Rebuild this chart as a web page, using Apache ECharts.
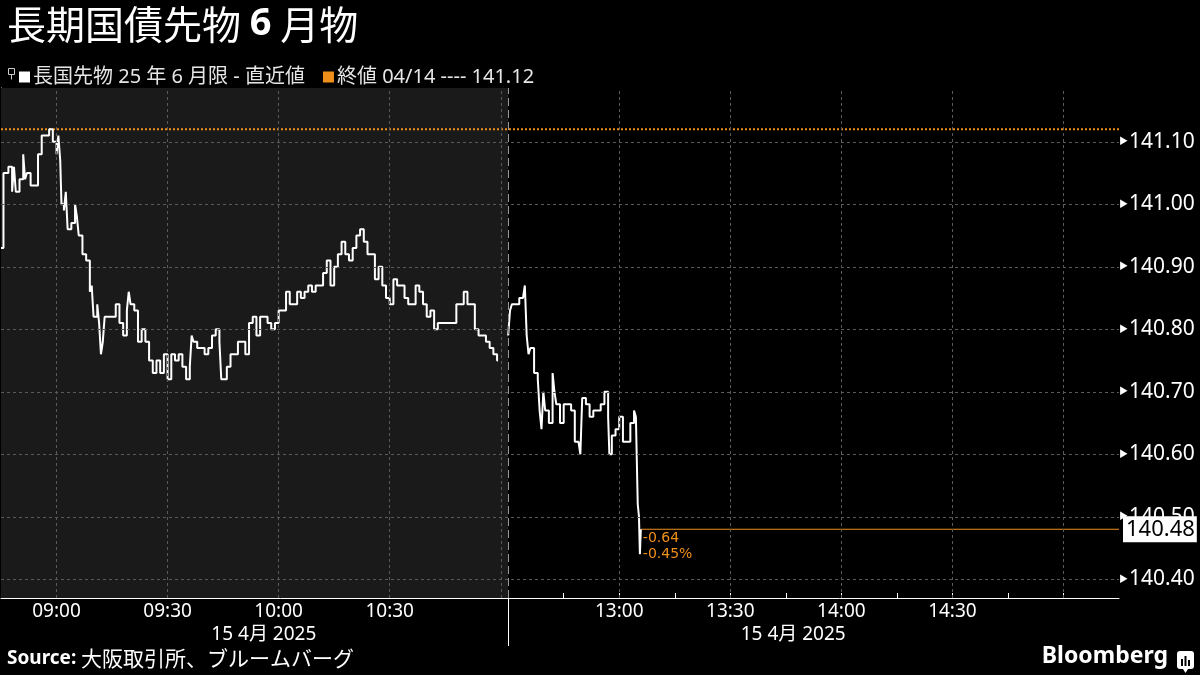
<!DOCTYPE html>
<html>
<head>
<meta charset="utf-8">
<script src="https://cdn.jsdelivr.net/npm/echarts@6/dist/echarts.min.js"></script>
<style>
html, body { margin: 0; padding: 0; background: #000; }
#chart { width: 1200px; height: 675px; }
</style>
</head>
<body>
<div id="chart"></div>
<script>
// 前場 (08:45 - 11:02)
const amTimes = [
	"08:45", "08:45:40", "08:46", "08:47", "08:48", "08:48:30", "08:49", "08:50", "08:51", "08:51:30",
	"08:52", "08:53", "08:54", "08:55", "08:56", "08:57", "08:58", "08:59", "09:00", "09:00:30",
	"09:01", "09:01:20", "09:02", "09:02:30", "09:03", "09:04", "09:05", "09:05:30", "09:06", "09:07",
	"09:08", "09:09", "09:09:30", "09:10", "09:11", "09:11:30", "09:12", "09:12:30", "09:13", "09:14",
	"09:15", "09:16", "09:17", "09:18", "09:19", "09:19:30", "09:20", "09:21", "09:22", "09:23",
	"09:24", "09:25", "09:26", "09:27", "09:28", "09:29", "09:30", "09:31", "09:32", "09:33",
	"09:34", "09:35", "09:36", "09:36:30", "09:37", "09:38", "09:39", "09:40", "09:41", "09:42",
	"09:43", "09:44", "09:44:30", "09:45", "09:46", "09:47", "09:48", "09:49", "09:50", "09:51",
	"09:52", "09:53", "09:54", "09:55", "09:56", "09:57", "09:58", "09:59", "10:00", "10:01",
	"10:02", "10:03", "10:04", "10:05", "10:06", "10:07", "10:08", "10:09", "10:10", "10:11",
	"10:12", "10:13", "10:14", "10:15", "10:16", "10:17", "10:18", "10:19", "10:20", "10:21",
	"10:22", "10:23", "10:24", "10:25", "10:26", "10:27", "10:28", "10:29", "10:30", "10:31",
	"10:32", "10:33", "10:34", "10:35", "10:36", "10:37", "10:38", "10:39", "10:40", "10:41",
	"10:42", "10:43", "10:44", "10:45", "10:46", "10:47", "10:48", "10:49", "10:50", "10:51",
	"10:52", "10:53", "10:54", "10:55", "10:56", "10:57", "10:58", "10:59", "10:59:15"
];
const amValues = [
	140.93, 141.05, 141.05, 141.06, 141.02, 141.06, 141.02, 141.04, 141.08, 141.04,
	141.05, 141.03, 141.03, 141.08, 141.11, 141.11, 141.12, 141.10, 141.08, 141.11,
	141.07, 141.00, 140.99, 141.02, 140.96, 140.97, 141.00, 140.98, 140.95, 140.92,
	140.91, 140.86, 140.87, 140.82, 140.84, 140.81, 140.76, 140.78, 140.82, 140.82,
	140.82, 140.84, 140.81, 140.79, 140.83, 140.86, 140.84, 140.83, 140.78, 140.80,
	140.78, 140.75, 140.73, 140.75, 140.73, 140.76, 140.72, 140.76, 140.75, 140.76,
	140.74, 140.72, 140.74, 140.79, 140.78, 140.77, 140.77, 140.76, 140.77, 140.79,
	140.80, 140.78, 140.72, 140.72, 140.74, 140.76, 140.76, 140.78, 140.78, 140.76,
	140.81, 140.82, 140.79, 140.82, 140.82, 140.81, 140.80, 140.81, 140.83, 140.83,
	140.86, 140.84, 140.84, 140.86, 140.85, 140.86, 140.87, 140.86, 140.87, 140.87,
	140.89, 140.91, 140.87, 140.90, 140.92, 140.94, 140.92, 140.91, 140.93, 140.95,
	140.96, 140.94, 140.92, 140.92, 140.88, 140.90, 140.87, 140.85, 140.84, 140.88,
	140.87, 140.87, 140.85, 140.84, 140.84, 140.87, 140.86, 140.84, 140.82, 140.83,
	140.80, 140.81, 140.81, 140.81, 140.81, 140.81, 140.84, 140.84, 140.86, 140.84,
	140.84, 140.80, 140.79, 140.79, 140.78, 140.77, 140.76, 140.75, 140.75
];

// 後場 (12:30 -)
const pmTimes = [
	"12:30", "12:30:30", "12:31", "12:32", "12:33", "12:34", "12:34:30", "12:35", "12:35:30", "12:36",
	"12:37", "12:38", "12:38:30", "12:39", "12:39:30", "12:40", "12:41", "12:42", "12:42:30", "12:43",
	"12:44", "12:45", "12:46", "12:47", "12:48", "12:49", "12:49:30", "12:50", "12:51", "12:52",
	"12:53", "12:54", "12:55", "12:56", "12:57", "12:57:20", "12:58", "12:59", "13:00", "13:01",
	"13:02", "13:03", "13:04", "13:04:30", "13:05", "13:05:20", "13:05:35", "13:05:50"
];
const pmValues = [
	140.79, 140.83, 140.84, 140.84, 140.85, 140.85, 140.87, 140.79, 140.76, 140.77,
	140.73, 140.72, 140.67, 140.64, 140.70, 140.67, 140.65, 140.73, 140.70, 140.68,
	140.65, 140.68, 140.68, 140.67, 140.62, 140.62, 140.60, 140.69, 140.68, 140.66,
	140.67, 140.67, 140.68, 140.70, 140.66, 140.60, 140.63, 140.64, 140.66, 140.62,
	140.62, 140.65, 140.67, 140.66, 140.52, 140.50, 140.44, 140.48
];

const prevClose = 141.12;
const seriesName = "長国先物 25 年 6 月限 - 直近値";
const closeName = "終値 04/14 ---- 141.12";
const sessionDate = "15 4月 2025";

const yLabelValues = [140.4, 140.5, 140.6, 140.7, 140.8, 140.9, 141.0, 141.1];
const yTickValues = [140.45, 140.55, 140.65, 140.75, 140.85, 140.95, 141.05, 141.15];
const xLabelTimes = ["09:00", "09:30", "10:00", "10:30", "13:00", "13:30", "14:00", "14:30"];
const xGridTimes = ["09:00", "09:30", "10:00", "10:30", "11:00", "13:00", "13:30", "14:00", "14:30", "15:00"];
const xTickTimes = [
	"09:00", "09:15", "09:30", "09:45", "10:00", "10:15", "10:30", "10:45", "11:00",
	"12:45", "13:00", "13:15", "13:30", "13:45", "14:00", "14:15", "14:30", "14:45", "15:00"
];

// 昼休みを詰めた「取引分」の軸に変換
const AM_OPEN = 8 * 60 + 45;
const AM_LEN = 137; // 08:45 - 11:02
const PM_OPEN = 12 * 60 + 30;
const PM_LEN = 165; // 12:30 - 15:15
const X_MAX = AM_LEN + PM_LEN;
const toV = t => {
	const p = t.split(":").map(Number);
	const mins = p[0] * 60 + p[1] + (p[2] || 0) / 60;
	return mins < 12 * 60 ? mins - AM_OPEN : mins - PM_OPEN + AM_LEN;
};
const labelOf = {};
xLabelTimes.forEach(t => (labelOf[Math.round(toV(t))] = t));

const amData = amTimes.map((t, i) => [toV(t), amValues[i]]);
const pmData = pmTimes.map((t, i) => [toV(t), pmValues[i]]);
const last = pmData[pmData.length - 1];
const chg = last[1] - prevClose;
const chgPct = (chg / prevClose) * 100;

const WHITE = "#ffffff";
const ORANGE = "#f0901a";
const GRID = "#5a5a5a";
const FONT = "'Noto Sans', 'Noto Sans CJK JP', sans-serif";
const JP = "'Noto Sans CJK JP', sans-serif";

const myChart = echarts.init(document.getElementById("chart"));
const option = {
	backgroundColor: "#000",
	animation: false,
	textStyle: { fontFamily: FONT },
	title: {
		text: "長期国債先物 {b|6} 月物",
		left: 2,
		top: 0,
		textStyle: {
			color: WHITE,
			fontSize: 39,
			fontWeight: "normal",
			fontFamily: JP,
			rich: { b: { fontSize: 38, fontWeight: "bold", color: WHITE, fontFamily: FONT } }
		}
	},
	legend: {
		left: 14,
		top: 62,
		icon: "rect",
		itemWidth: 11,
		itemHeight: 11,
		itemGap: 18,
		textStyle: { color: "#e6e6e6", fontSize: 20, fontFamily: FONT, padding: [0, 0, 0, -2] },
		data: [
			{ name: seriesName, itemStyle: { color: WHITE } },
			{ name: closeName, itemStyle: { color: ORANGE } }
		]
	},
	grid: { left: 1, right: 81, top: 88, bottom: 77 },
	xAxis: [
		{
			type: "value",
			min: 0,
			max: X_MAX,
			axisLine: { lineStyle: { color: WHITE, width: 1 } },
			axisTick: { inside: true, length: 5, customValues: xTickTimes.map(toV), lineStyle: { color: WHITE } },
			axisLabel: {
				customValues: xLabelTimes.map(toV),
				formatter: v => labelOf[Math.round(v)] || "",
				color: WHITE,
				fontSize: 19,
				margin: 4
			},
			splitLine: { show: false }
		},
		{
			type: "value",
			position: "bottom",
			min: 0,
			max: X_MAX,
			axisLine: { show: false },
			axisTick: { show: true, length: 48, customValues: [AM_LEN], lineStyle: { color: WHITE } },
			axisLabel: {
				customValues: [71, 214],
				formatter: () => sessionDate,
				color: WHITE,
				fontSize: 19,
				margin: 27
			},
			splitLine: { show: false }
		}
	],
	yAxis: {
		type: "value",
		position: "right",
		min: 140.37,
		max: 141.186,
		axisLine: { show: true, lineStyle: { color: WHITE } },
		axisTick: { show: true, length: 5, customValues: yTickValues, lineStyle: { color: WHITE } },
		axisLabel: {
			customValues: yLabelValues,
			formatter: v => "{t|▶}" + v.toFixed(2),
			color: WHITE,
			fontSize: 21,
			margin: 0,
			rich: { t: { fontSize: 9, color: WHITE, padding: [0, 1, 0, 0] } }
		},
		splitLine: { show: false }
	},
	series: [
		{
			// 前場の網掛け
			type: "line",
			data: [],
			silent: true,
			z: 0,
			markArea: {
				silent: true,
				itemStyle: { color: "#1a1a1a" },
				data: [[{ xAxis: 0 }, { xAxis: AM_LEN }]]
			}
		},
		{
			// グリッド線
			type: "line",
			data: [],
			silent: true,
			z: 1,
			markLine: {
				silent: true,
				symbol: "none",
				label: { show: false },
				lineStyle: { color: GRID, type: [3, 3], width: 1 },
				data: [
					...yLabelValues.map(y => ({ yAxis: y })),
					...xGridTimes.map(t => ({ xAxis: toV(t) })),
					{ xAxis: AM_LEN, lineStyle: { color: "#9a9a9a", type: [8, 4], width: 1 } }
				]
			}
		},
		{
			name: closeName,
			type: "line",
			data: [[0, prevClose], [X_MAX, prevClose]],
			symbol: "none",
			silent: true,
			z: 2,
			lineStyle: { color: ORANGE, width: 2, type: [2, 2] },
			itemStyle: { color: ORANGE }
		},
		{
			// 直近値の水平線と値ラベル
			name: "last",
			type: "line",
			data: [[last[0] + 0.1, last[1]], [X_MAX, last[1]]],
			symbol: "none",
			silent: true,
			z: 2,
			lineStyle: { color: ORANGE, width: 1 },
			itemStyle: { color: ORANGE },
			endLabel: {
				show: true,
				distance: 4,
				formatter: () => last[1].toFixed(2),
				color: "#000",
				backgroundColor: WHITE,
				fontSize: 22,
				padding: [3, 2, 1, 3]
			}
		},
		{
			name: seriesName,
			type: "line",
			step: "end",
			data: amData,
			symbol: "none",
			z: 3,
			lineStyle: { color: WHITE, width: 2 },
			itemStyle: { color: WHITE }
		},
		{
			name: seriesName,
			type: "line",
			step: "end",
			data: pmData,
			symbol: "none",
			z: 3,
			lineStyle: { color: WHITE, width: 2 },
			itemStyle: { color: WHITE },
			markPoint: {
				silent: true,
				symbol: "circle",
				symbolSize: 0,
				label: {
					show: true,
					position: "right",
					offset: [-3, 17],
					color: ORANGE,
					fontSize: 14,
					lineHeight: 16,
					fontFamily: "'DejaVu Sans', sans-serif",
					formatter: () => chg.toFixed(2) + "\n" + chgPct.toFixed(2) + "%"
				},
				data: [{ coord: last }]
			}
		}
	],
	graphic: [
		{
			type: "group",
			left: 6,
			top: 66,
			children: [
				{ type: "rect", shape: { x: 0, y: 0, width: 6, height: 6 }, style: { fill: "none", stroke: "#ccc", lineWidth: 1 } },
				{ type: "line", shape: { x1: 3, y1: 6, x2: 3, y2: 11 }, style: { stroke: "#ccc", lineWidth: 1 } }
			]
		},
		{
			type: "text",
			left: 7,
			top: 648,
			style: {
				text: "{b|Source:} 大阪取引所、ブルームバーグ",
				fill: WHITE,
				font: "21px " + JP,
				rich: { b: { fontWeight: "bold", fontSize: 19, fontFamily: FONT, fill: WHITE } }
			}
		},
		{
			type: "text",
			right: 32,
			top: 645,
			style: { text: "Bloomberg", fill: WHITE, font: "bold 23px " + FONT }
		},
		{
			type: "group",
			right: 6,
			top: 651,
			children: [
				{ type: "rect", shape: { x: 0, y: 0, width: 17, height: 18, r: 3 }, style: { fill: WHITE } },
				{ type: "polygon", shape: { points: [[6, 18], [11, 18], [8.5, 22]] }, style: { fill: WHITE } },
				{ type: "rect", shape: { x: 4, y: 8, width: 2, height: 7 }, style: { fill: "#000" } },
				{ type: "rect", shape: { x: 7.5, y: 5, width: 2, height: 10 }, style: { fill: "#000" } },
				{ type: "rect", shape: { x: 11, y: 9, width: 2, height: 6 }, style: { fill: "#000" } }
			]
		}
	]
};
myChart.setOption(option);
</script>
</body>
</html>
